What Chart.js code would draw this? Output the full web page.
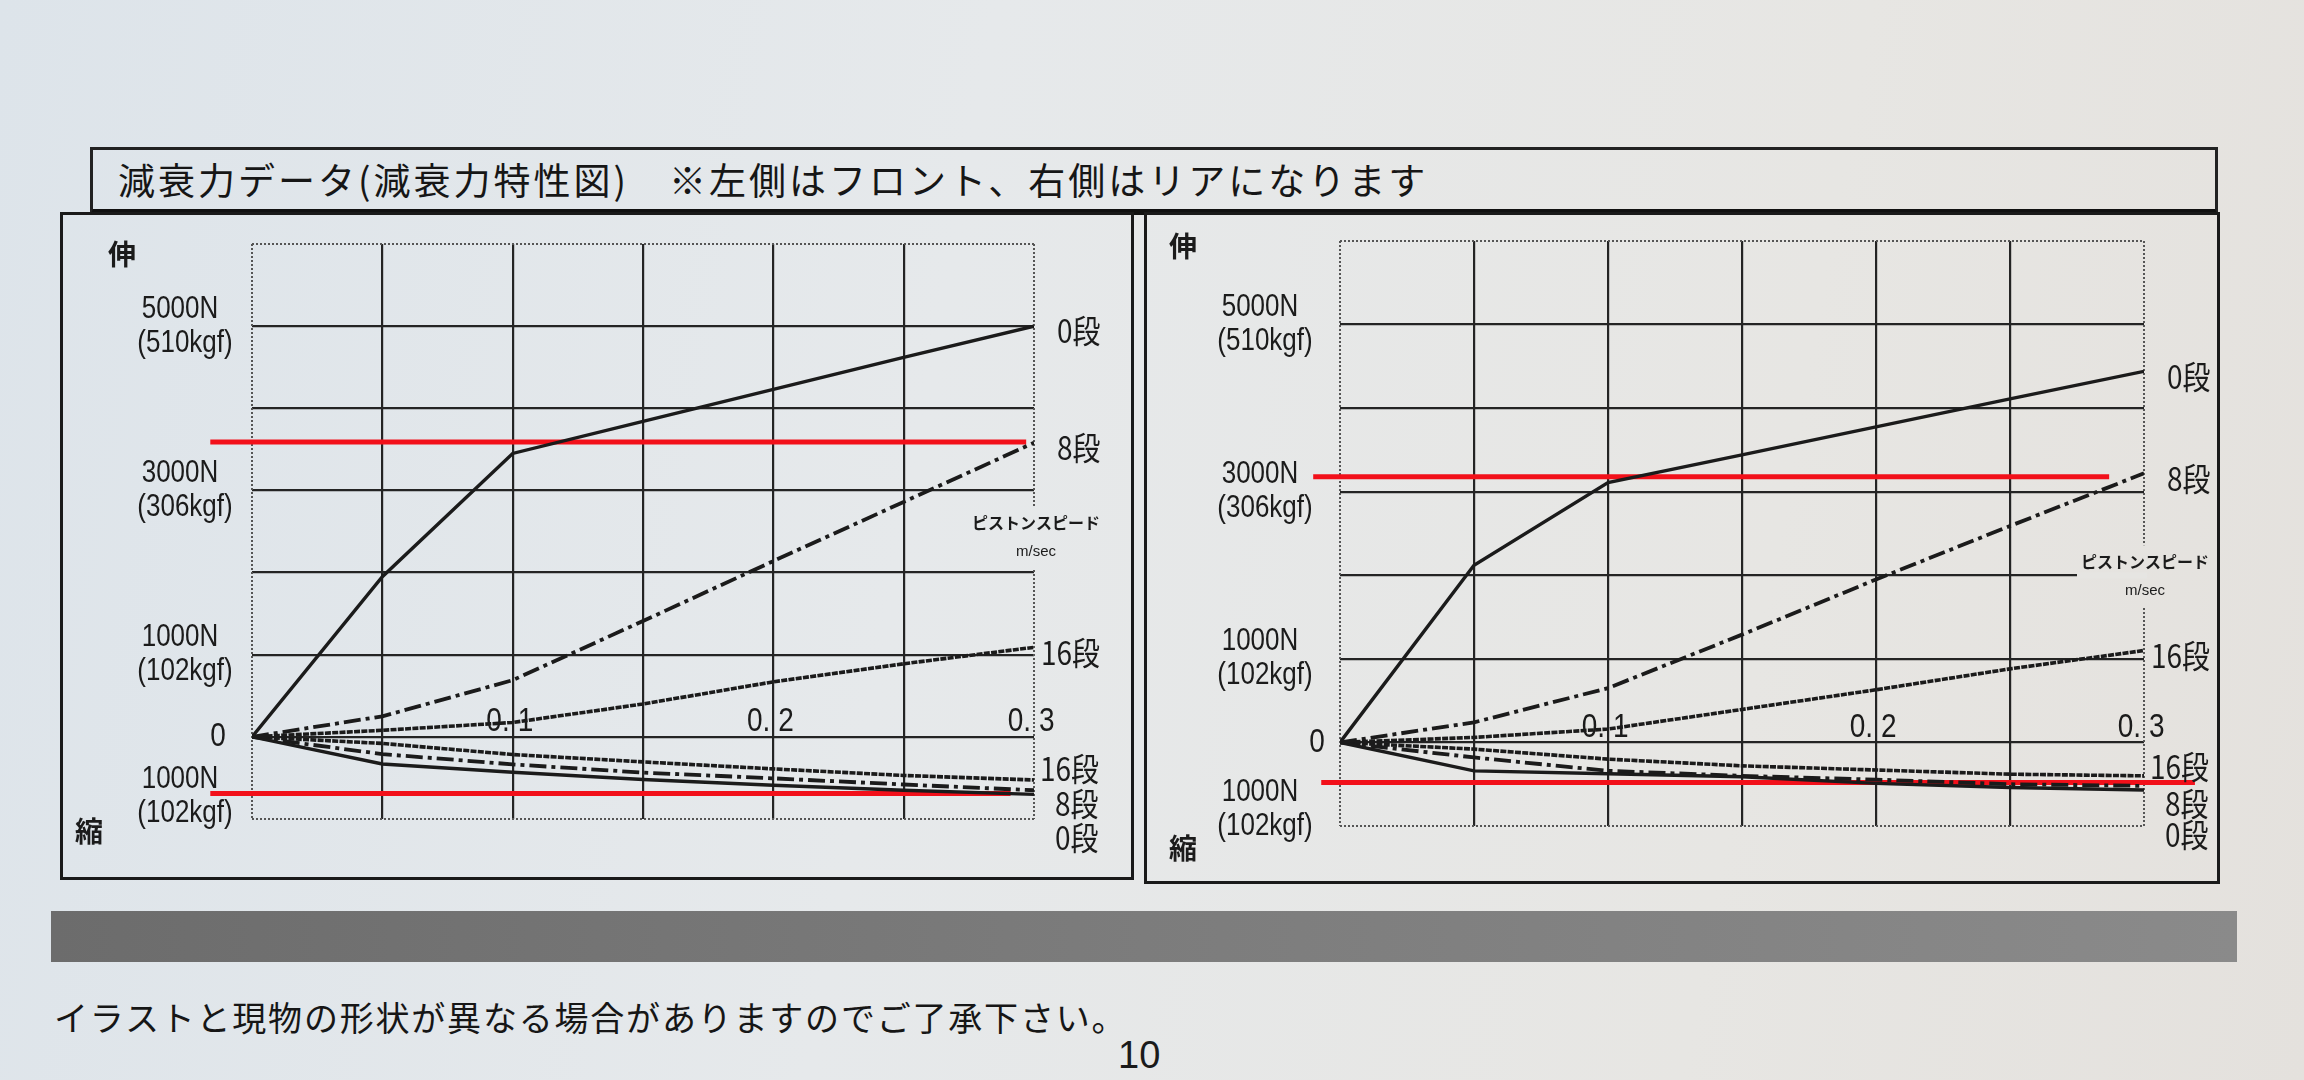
<!DOCTYPE html>
<html><head><meta charset="utf-8">
<script src="https://cdn.jsdelivr.net/npm/chart.js@4.4.1/dist/chart.umd.min.js"></script>
<style>
html,body{margin:0;padding:0;}
body{width:2304px;height:1080px;position:relative;overflow:hidden;
 background:linear-gradient(100deg,#dde4ea 0%,#e6e9eb 40%,#e7e6e3 75%,#e4e1dd 100%);
 font-family:'Noto Sans CJK JP',sans-serif;color:#1b1b1b;}
.hdr{position:absolute;left:90px;top:147px;width:2128px;height:68px;border:3px solid #222;border-bottom:6px solid #111;box-sizing:border-box;}
.hdr span{position:absolute;left:25px;top:50%;transform:translateY(-52%);font-size:37px;letter-spacing:3px;white-space:nowrap;color:#161616;}
.panel{position:absolute;border:3px solid #1a1a1a;box-sizing:border-box;}
canvas{position:absolute;}
.band{position:absolute;left:51px;top:911px;width:2186px;height:51px;background:linear-gradient(90deg,#6c6c6c,#7c7c7c 50%,#8a8a8a);}
.foot{position:absolute;left:54px;top:992px;font-size:34px;letter-spacing:1.8px;white-space:nowrap;color:#161616;}
.page{position:absolute;left:1118px;top:1034px;font-family:'Liberation Sans Narrow','Liberation Sans',sans-serif;font-size:38px;color:#1a1a1a;}
</style>
</head><body>
<div class="hdr"><span>減衰力データ(減衰力特性図)　※左側はフロント、右側はリアになります</span></div>
<div class="panel" style="left:60px;top:212px;width:1074px;height:668px;"></div>
<div class="panel" style="left:1144px;top:212px;width:1076px;height:672px;"></div>
<canvas id="front" width="1068" height="662" style="left:63px;top:215px;"></canvas>
<canvas id="rear" width="1070" height="664" style="left:1147px;top:215px;"></canvas>
<div class="band"></div>
<div class="foot">イラストと現物の形状が異なる場合がありますのでご了承下さい。</div>
<div class="page">10</div>
<script>
// ---- data ----
const speeds = [0, 0.05, 0.1, 0.15, 0.2, 0.25, 0.3];          // ピストンスピード m/sec
const stageNames = ['0段', '8段', '16段'];
// Front (left chart)  N
const frontExt0  = [0, 1950, 3450, 3840, 4230, 4620, 5000];
const frontExt8  = [0, 250, 690, 1410, 2140, 2860, 3580];
const frontExt16 = [0, 80, 175, 400, 670, 890, 1090];
const frontComp0  = [0, -330, -430, -520, -590, -650, -700];
const frontComp8  = [0, -210, -335, -435, -505, -580, -650];
const frontComp16 = [0, -80, -215, -305, -390, -470, -525];
// Rear (right chart)  N
const rearExt0  = [0, 2120, 3110, 3440, 3775, 4110, 4440];
const rearExt8  = [0, 240, 650, 1290, 1950, 2590, 3220];
const rearExt16 = [0, 60, 160, 395, 630, 880, 1100];
const rearComp0  = [0, -340, -375, -410, -490, -540, -570];
const rearComp8  = [0, -180, -340, -400, -445, -500, -520];
const rearComp16 = [0, -80, -200, -280, -330, -380, -400];
// red marker lines drawn over the photo
const frontRedY = [3590, -690];
const frontRedX = [[-0.016, 0.297], [-0.016, 0.291]];
const rearRedY = [3180, -480];
const rearRedX = [[-0.010, 0.287], [-0.007, 0.319]];
// tick labels
const forceTicks = [5000, 3000, 1000, 0, -1000];
const forceN   = ['5000N', '3000N', '1000N', '0', '1000N'];
const forceKgf = ['(510kgf)', '(306kgf)', '(102kgf)', '', '(102kgf)'];
const speedTicks = [0.1, 0.2, 0.3];
const speedTickLabels = ['0.1', '0.2', '0.3'];

// ---- styles ----
const INK = '#1b1b1b';
const dashFor = {'0段': [], '8段': [17, 5, 4, 5], '16段': [6, 1.3]};
const widthFor = {'0段': 3.4, '8段': 3.8, '16段': 3.6};

function pts(ys){ return speeds.map((x, i) => ({x: x, y: ys[i]})); }
function seriesSet(ext, comp, redY, redX){
  const ds = [];
  ext.forEach((ys, i) => ds.push({label: stageNames[i] + ' 伸', stage: stageNames[i], kind: 'ext', data: pts(ys),
    borderColor: INK, borderWidth: widthFor[stageNames[i]], borderDash: dashFor[stageNames[i]], pointRadius: 0, fill: false, tension: 0}));
  comp.forEach((ys, i) => ds.push({label: stageNames[i] + ' 縮', stage: stageNames[i], kind: 'comp', data: pts(ys),
    borderColor: INK, borderWidth: widthFor[stageNames[i]], borderDash: dashFor[stageNames[i]], pointRadius: 0, fill: false, tension: 0}));
  redY.forEach((v, i) => ds.push({label: 'red', kind: 'red', data: [{x: redX[i][0], y: v}, {x: redX[i][1], y: v}],
    borderColor: '#f2101a', borderWidth: 5, pointRadius: 0, fill: false, clip: false}));
  return ds;
}

function txt(ctx, s, x, y, font, align, sy){
  ctx.save(); ctx.font = font; ctx.textAlign = align || 'center'; ctx.textBaseline = 'middle';
  ctx.translate(x, y); ctx.scale(1, sy || 1); ctx.fillText(s, 0, 0); ctx.restore();
}

const annot = {
  id: 'annot',
  beforeDatasetsDraw(chart, args, o){
    const ctx = chart.ctx, a = chart.chartArea, x = chart.scales.x, y = chart.scales.y;
    ctx.save();
    if (o.cutGrid){
      ctx.fillStyle = o.bg;
      const xx = x.getPixelForValue(o.cutGrid[0]), yy = y.getPixelForValue(o.cutGrid[1]);
      ctx.fillRect(xx, yy - 3, a.right - xx + 3, 6);
    }
    ctx.strokeStyle = '#555'; ctx.lineWidth = 2; ctx.setLineDash([2, 2]);
    ctx.beginPath();
    ctx.moveTo(a.left, a.top); ctx.lineTo(a.right, a.top);
    ctx.moveTo(a.left, a.top); ctx.lineTo(a.left, a.bottom);
    ctx.moveTo(a.left, a.bottom); ctx.lineTo(a.right, a.bottom);
    ctx.moveTo(a.right, a.top); ctx.lineTo(a.right, y.getPixelForValue(o.gap[0]));
    ctx.moveTo(a.right, y.getPixelForValue(o.gap[1])); ctx.lineTo(a.right, a.bottom);
    ctx.stroke();
    ctx.restore();
  },
  afterDatasetsDraw(chart, args, o){
    const ctx = chart.ctx, a = chart.chartArea, x = chart.scales.x, y = chart.scales.y;
    ctx.save();
    ctx.fillStyle = '#1b1b1b';
    const numFont = '26px "Liberation Sans", sans-serif';
    // y labels
    forceTicks.forEach((v, i) => {
      const py = y.getPixelForValue(v < 0 ? v + o.negShift : v);
      if (forceKgf[i]){
        txt(ctx, forceN[i], a.left + o.labelDx, py - 17, numFont, 'center', 1.2);
        txt(ctx, forceKgf[i], a.left + o.labelDx + 5, py + 17, numFont, 'center', 1.2);
      } else {
        txt(ctx, forceN[i], a.left + o.zeroDx, py, '28px "Liberation Sans", sans-serif', 'center', 1.2);
      }
    });
    // x labels inside plot: "0." left of the grid line, last digit right of it
    const zy = y.getPixelForValue(0);
    const xf = '28px "Liberation Sans Narrow", "Liberation Sans", sans-serif';
    speedTicks.forEach((v, i) => {
      const gx = x.getPixelForValue(v), s = speedTickLabels[i], d = s.indexOf('.');
      txt(ctx, s.slice(0, d + 1), gx - 3, zy - 15, xf, 'right', 1.2);
      txt(ctx, s.slice(d + 1), gx + 5, zy - 15, xf, 'left', 1.2);
    });
    // 伸 / 縮
    txt(ctx, '伸', a.left + o.nobi[0], a.top + o.nobi[1], 'bold 28px "Noto Sans CJK JP"', 'center');
    txt(ctx, '縮', a.left + o.chijimi[0], a.bottom + o.chijimi[1], 'bold 28px "Noto Sans CJK JP"', 'center');
    // end labels
    const endFont = '28px "Liberation Sans Narrow", "Noto Sans CJK JP", sans-serif';
    chart.data.datasets.forEach(ds => {
      if (ds.kind === 'ext'){
        const last = ds.data[ds.data.length - 1].y;
        txt(ctx, ds.stage, a.right + (ds.stage === '16段' ? 7 : 23), y.getPixelForValue(last) + 5, endFont, 'left', 1.15);
      } else if (ds.kind === 'comp'){
        const idx = stageNames.indexOf(ds.stage);
        txt(ctx, ds.stage, a.right + (ds.stage === '16段' ? 6 : 21), y.getPixelForValue(o.compLabel[idx]), endFont, 'left', 1.15);
      }
    });
    // piston speed label
    const px = a.right + o.pistonDx, py = y.getPixelForValue(o.pistonY);
    txt(ctx, 'ピストンスピード', px, py, 'bold 16px "Noto Sans CJK JP"', 'center');
    txt(ctx, 'm/sec', px, py + 29, '15px "Liberation Sans", sans-serif', 'center');
    ctx.restore();
  }
};

function gridColor(lo, hi){
  return c => (c.tick && (Math.abs(c.tick.value - lo) < 1e-9 || Math.abs(c.tick.value - hi) < 1e-9)) ? 'rgba(0,0,0,0)' : '#242424';
}

function makeChart(id, datasets, pad, ann){
  return new Chart(document.getElementById(id), {
    type: 'line',
    data: {datasets: datasets},
    options: {
      responsive: false, animation: false, devicePixelRatio: 1,
      layout: {padding: pad},
      plugins: {legend: {display: false}, tooltip: {enabled: false}, annot: ann},
      scales: {
        x: {type: 'linear', min: 0, max: 0.3, ticks: {display: false, stepSize: 0.05},
            grid: {drawTicks: false, color: gridColor(0, 0.3), lineWidth: 2.2}, border: {display: false}},
        y: {type: 'linear', min: -1000, max: 6000, ticks: {display: false, stepSize: 1000},
            grid: {drawTicks: false, color: gridColor(-1000, 6000), lineWidth: 2.2}, border: {display: false}}
      }
    },
    plugins: [annot]
  });
}

makeChart('front',
  seriesSet([frontExt0, frontExt8, frontExt16], [frontComp0, frontComp8, frontComp16], frontRedY, frontRedX),
  {left: 189, right: 97, top: 29, bottom: 58},
  {labelDx: -72, zeroDx: -34, negShift: 280, nobi: [-130, 10], chijimi: [-163, 12],
   compLabel: [-1230, -820, -390], pistonDx: 2, pistonY: 2604, gap: [2800, 2030]});

makeChart('rear',
  seriesSet([rearExt0, rearExt8, rearExt16], [rearComp0, rearComp8, rearComp16], rearRedY, rearRedX),
  {left: 193, right: 73, top: 26, bottom: 53},
  {labelDx: -80, zeroDx: -23, negShift: 200, nobi: [-157, 5], chijimi: [-157, 22],
   compLabel: [-1110, -730, -290], pistonDx: 1, pistonY: 2160, gap: [2360, 1610],
   cutGrid: [0.275, 2000], bg: '#e6e5e2'});
</script>
</body></html>
